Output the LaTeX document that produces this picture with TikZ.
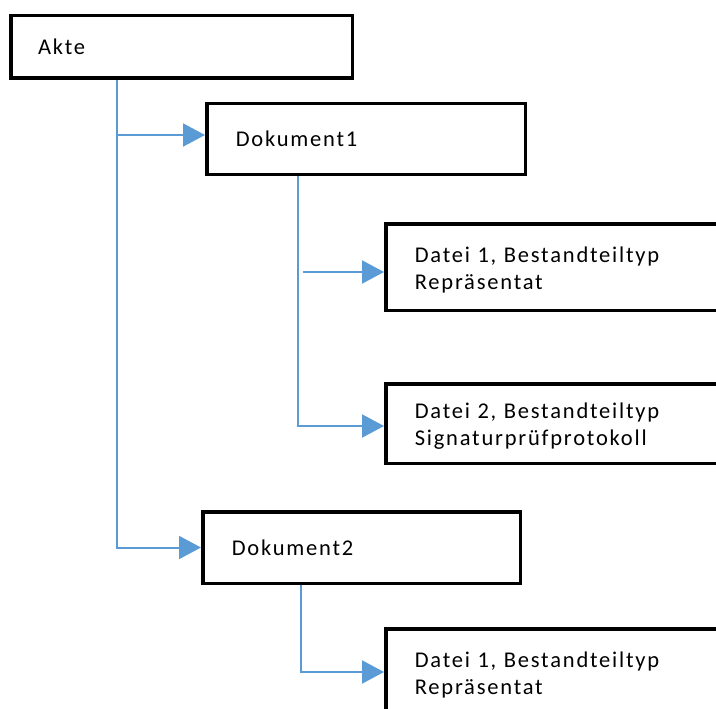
\documentclass[tikz,border=0pt]{standalone}
\usepackage{fontspec}
\setmainfont{Carlito}[LetterSpace=8]
\usetikzlibrary{arrows.meta,calc}
\definecolor{linkblue}{RGB}{91,155,213}
\tikzset{dbox/.style={draw=black, line width=3.5pt, rectangle, inner xsep=29pt, inner ysep=0pt, align=left, font=\fontsize{22.5}{26.7}\selectfont}}
\tikzset{conn/.style={draw=linkblue, line width=2pt}}
\tikzset{arr/.style={conn, -{Triangle[length=22pt,width=23pt]}}}
\newcommand{\toprule}{\rule{0pt}{21pt}}

\begin{document}
\begin{tikzpicture}[x=1pt,y=-1pt]
	\useasboundingbox (0,0) rectangle (716,709);
	\clip (0,0) rectangle (716,709);
	% boxes
	\node[dbox, minimum width=341.5pt, minimum height=62.5pt, text width=287pt, inner xsep=27.25pt] (akte) at (181.5,47) {Akte};
	\node[dbox, minimum width=318.5pt, minimum height=70.5pt, text width=260.5pt] (dok1) at (366,139) {Dokument1};
	\node[dbox, minimum width=354.25pt, minimum height=86.5pt, text width=296.25pt] (datei1) at (562.9,267) {\toprule Datei 1, Bestandteiltyp\\Repräsentat};
	\node[dbox, minimum width=354.25pt, minimum height=79.5pt, text width=296.25pt] (datei2) at (562.9,423.5) {\toprule Datei 2, Bestandteiltyp\\Signaturprüfprotokoll};
	\node[dbox, minimum width=317.5pt, minimum height=71.5pt, text width=259.5pt] (dok2) at (361.5,547.5) {Dokument2};
	\node[dbox, minimum width=354.25pt, minimum height=86.5pt, text width=296.25pt] (datei3) at (562.9,672) {\toprule Datei 1, Bestandteiltyp\\Repräsentat};
	% trunks
	\coordinate (ta) at (117,0);
	\coordinate (tb) at (298,0);
	\coordinate (tc) at (301,0);
	% links
	\draw[arr] (akte.south -| ta) |- (dok2.west);
	\draw[arr] ($(ta |- dok1.west)+(0,-4)$) -- ($(dok1.west)+(0,-4)$);
	\draw[arr] (dok1.south -| tb) |- ($(datei2.west)+(0,2.5)$);
	\draw[arr] ($(tb |- datei1.west)+(5,5)$) -- ($(datei1.west)+(0,5)$);
	\draw[arr] (dok2.south -| tc) |- (datei3.west);
\end{tikzpicture}
\end{document}
